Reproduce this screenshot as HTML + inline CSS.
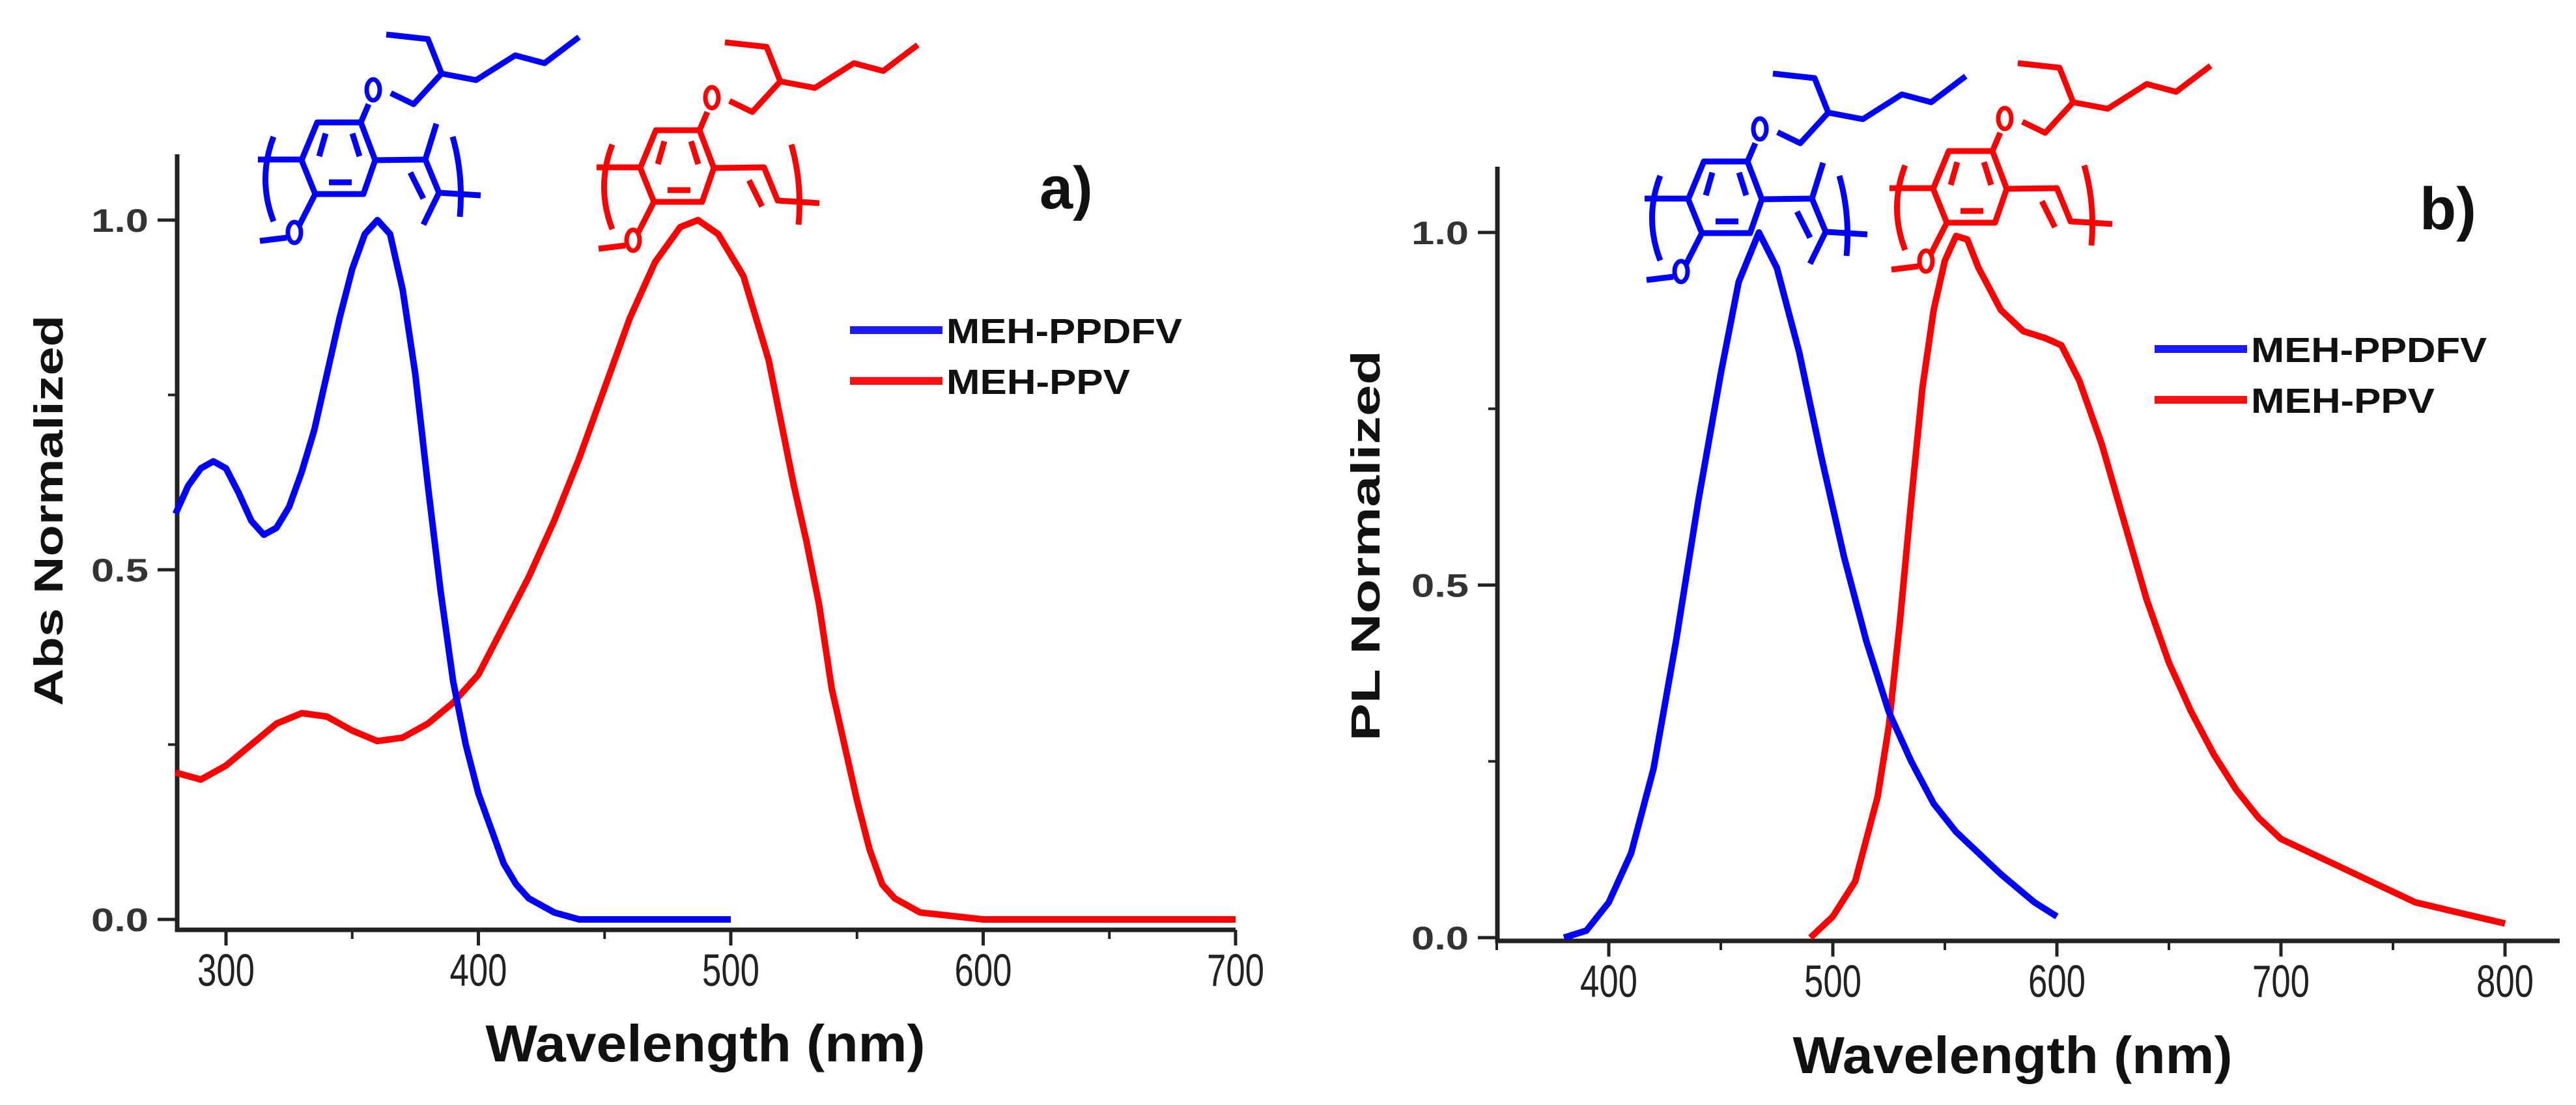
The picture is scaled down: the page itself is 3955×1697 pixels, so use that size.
<!DOCTYPE html>
<html><head><meta charset="utf-8"><style>
html,body{margin:0;padding:0;background:#fff;}
svg{display:block;font-family:"Liberation Sans",sans-serif;}
</style></head><body>
<svg id="chart" width="3955" height="1697" viewBox="0 0 3955 1697" xmlns="http://www.w3.org/2000/svg">
<rect width="3955" height="1697" fill="#fff"/>
<g id="gA"></g>
<g id="gB"></g>
</svg>
<script>
// Panel a: absorption
const absWl = [280,285,290,295,300,305,310,315,320,325,330,335,340,345,350,355,360,365,370,375,380,385,390,395,400,405,410,415,420,430,440,500];
const absBlue = [0.58,0.62,0.645,0.655,0.645,0.61,0.57,0.55,0.56,0.59,0.64,0.70,0.78,0.86,0.93,0.98,1.0,0.98,0.90,0.78,0.62,0.47,0.34,0.25,0.18,0.13,0.08,0.05,0.03,0.01,0.0,0.0];
const absRedWl = [280,290,300,310,320,330,340,350,360,370,380,390,400,410,420,430,440,450,460,470,480,487,495,505,515,525,530,535,540,545,550,555,560,565,575,600,700];
const absRed = [0.21,0.20,0.22,0.25,0.28,0.295,0.29,0.27,0.255,0.26,0.28,0.31,0.35,0.42,0.49,0.57,0.66,0.76,0.86,0.94,0.99,1.0,0.98,0.92,0.80,0.62,0.54,0.45,0.33,0.25,0.17,0.10,0.05,0.03,0.01,0.0,0.0];
const aXTicks = [300,400,500,600,700];
const aYTicks = [0.0,0.5,1.0];
// Panel b: PL
const plBlueWl = [380,390,400,410,420,430,440,450,458,467,475,485,495,505,515,525,535,545,555,565,575,590,600];
const plBlue = [0.0,0.01,0.05,0.12,0.24,0.42,0.62,0.80,0.93,1.0,0.95,0.83,0.68,0.54,0.42,0.32,0.25,0.19,0.15,0.12,0.09,0.05,0.03];
const plRedWl = [490,500,510,520,525,530,535,540,545,550,555,560,565,575,585,595,602,610,620,630,640,650,660,670,680,690,700,720,740,760,780,800];
const plRed = [0.0,0.03,0.08,0.20,0.30,0.45,0.62,0.78,0.89,0.96,0.995,0.99,0.95,0.89,0.86,0.85,0.84,0.79,0.70,0.59,0.48,0.39,0.32,0.26,0.21,0.17,0.14,0.11,0.08,0.05,0.035,0.02];
const bXTicks = [400,500,600,700,800];
const bYTicks = [0.0,0.5,1.0];

const NS = "http://www.w3.org/2000/svg";
function mk(parent, tag, attrs, text){
  const e = document.createElementNS(NS, tag);
  for (const k in attrs) e.setAttribute(k, attrs[k]);
  if (text !== undefined) e.textContent = text;
  parent.appendChild(e);
  return e;
}
function path(parent, xs, ys, X, Y, color, name){
  let d = "";
  for (let i=0;i<xs.length;i++) d += (i?"L":"M") + X(xs[i]).toFixed(1) + "," + Y(ys[i]).toFixed(1);
  const p = mk(parent, "path", {d:d, fill:"none", stroke:color, "stroke-width":10, "stroke-linejoin":"round"});
  
  
}

function panel(g, o){
  const X = w => o.x0 + (w - o.w0) * o.sx;
  const Y = v => o.y0 - v * o.sy;
  const ax = mk(g, "path", {d:`M${o.ax},${o.top}V${o.axY}H${o.right}`, fill:"none", stroke:"#222", "stroke-width":7});
  
  
  o.xt.forEach(t=>{
    mk(g,"line",{x1:X(t),x2:X(t),y1:o.axY,y2:o.axY+24,stroke:"#222","stroke-width":5});
    const tl = mk(g,"text",{x:X(t),y:o.axY+86,"font-size":70,"text-anchor":"middle",fill:"#222",textLength:88,lengthAdjust:"spacingAndGlyphs"}, String(t));
    
    
    const m = t + 50;
    if (X(m) < o.right) mk(g,"line",{x1:X(m),x2:X(m),y1:o.axY,y2:o.axY+14,stroke:"#222","stroke-width":4});
  });
  if (o.minorBefore) mk(g,"line",{x1:X(o.xt[0]-50),x2:X(o.xt[0]-50),y1:o.axY,y2:o.axY+14,stroke:"#222","stroke-width":4});
  o.yt.forEach(t=>{
    mk(g,"line",{x1:o.ax-30,x2:o.ax,y1:Y(t),y2:Y(t),stroke:"#222","stroke-width":5});
    const tl = mk(g,"text",{x:o.ax-44,y:Y(t)+18,"font-size":50,"font-weight":"bold","text-anchor":"end",fill:"#333",textLength:88,lengthAdjust:"spacingAndGlyphs"}, t.toFixed(1));
    
    
    if (t < 1) mk(g,"line",{x1:o.ax-14,x2:o.ax,y1:Y(t+0.25),y2:Y(t+0.25),stroke:"#222","stroke-width":4});
  });
  const xt = mk(g,"text",{x:o.xtX,y:o.xtY,"font-size":80,"font-weight":"bold","text-anchor":"middle",fill:"#111",textLength:675,lengthAdjust:"spacingAndGlyphs"},"Wavelength (nm)");
  
  
  const yt = mk(g,"text",{x:0,y:0,"font-size":62,"font-weight":"bold","text-anchor":"middle",fill:"#111",textLength:600,lengthAdjust:"spacingAndGlyphs",transform:`translate(${o.ytX},${o.ytY}) rotate(-90)`}, o.ytitle);
  
  
  const pl = mk(g,"text",{x:o.lblX,y:o.lblY,"font-size":92,"font-weight":"bold",fill:"#111"}, o.lbl);
  
  
  const lg = mk(g,"g",{});
  
  
  [["MEH-PPDFV","#1a1aff",0],["MEH-PPV","#ff1010",1]].forEach(([n,c,i])=>{
    const y = o.legY + i*78;
    mk(lg,"line",{x1:o.legX,x2:o.legX+142,y1:y,y2:y,stroke:c,"stroke-width":12});
    const t = mk(lg,"text",{x:o.legX+148,y:y+20,"font-size":54,"font-weight":"bold",fill:"#111",textLength:i?282:362,lengthAdjust:"spacingAndGlyphs"}, n);
    
    
  });
  return {X,Y};
}

const gA = document.getElementById("gA");
const A = panel(gA,{x0:347,w0:300,sx:3.875,y0:1412,sy:1074,ax:272,top:237,axY:1428,right:1897,xt:aXTicks,yt:aYTicks,
  xtX:1083,xtY:1630,ytX:96,ytY:784,ytitle:"Abs Normalized",lblX:1596,lblY:320,lbl:"a)",legX:1305,legY:507,minorBefore:false});
path(gA, absRedWl, absRed, A.X, A.Y, "#ff0000", "series-meh-ppv-abs");
path(gA, absWl, absBlue, A.X, A.Y, "#0000ff", "series-meh-ppdfv-abs");

const gB = document.getElementById("gB");
const B = panel(gB,{x0:2470,w0:400,sx:3.44,y0:1440,sy:1083,ax:2299,top:256,axY:1445,right:3930,xt:bXTicks,yt:bYTicks,
  xtX:3090,xtY:1648,ytX:2118,ytY:838,ytitle:"PL Normalized",lblX:3715,lblY:352,lbl:"b)",legX:3308,legY:536,minorBefore:true});
path(gB, plRedWl, plRed, B.X, B.Y, "#ff0000", "series-meh-ppv-pl");
path(gB, plBlueWl, plBlue, B.X, B.Y, "#0000ff", "series-meh-ppdfv-pl");

function molecule(g, color, dx, dy, fluoro, name){
  const m = mk(g,"g",{transform:`translate(${dx},${dy})`,fill:"none",stroke:color,"stroke-width":9,"stroke-linejoin":"round"});
  
  
  const lines = [
    "M487,188L554,188L576,246L558,298L484,298L463,246Z",
    "M500,205L490,240 M541,205L552,240 M505,280L540,280",
    "M554,188L566,160 M600,143L635,160L678,113L731,123L791,85L836,97L889,57",
    "M678,113L657,60L593,53",
    "M484,298L460,345 M440,365L399,370",
    "M396,245L463,245",
    "M420,210Q395,275 420,340",
    "M576,246L653,245L674,296L738,300",
    "M630,265L650,305",
    "M695,210Q712,270 706,333"
  ];
  if (fluoro) lines.push("M653,245L670,190 M674,296L650,345");
  lines.forEach(d=>mk(m,"path",{d:d}));
  mk(m,"ellipse",{cx:573,cy:138,rx:10,ry:16,"stroke-width":7});
  mk(m,"ellipse",{cx:452,cy:357,rx:10,ry:16,"stroke-width":7});
}
const svg = document.getElementById("chart");
molecule(svg,"#0000ff",0,0,true,"structure-meh-ppdfv-a");
molecule(svg,"#ff0000",520,12,false,"structure-meh-ppv-a");
molecule(svg,"#0000ff",2129,60,true,"structure-meh-ppdfv-b");
molecule(svg,"#ff0000",2505,44,false,"structure-meh-ppv-b");
</script>
</body></html>
